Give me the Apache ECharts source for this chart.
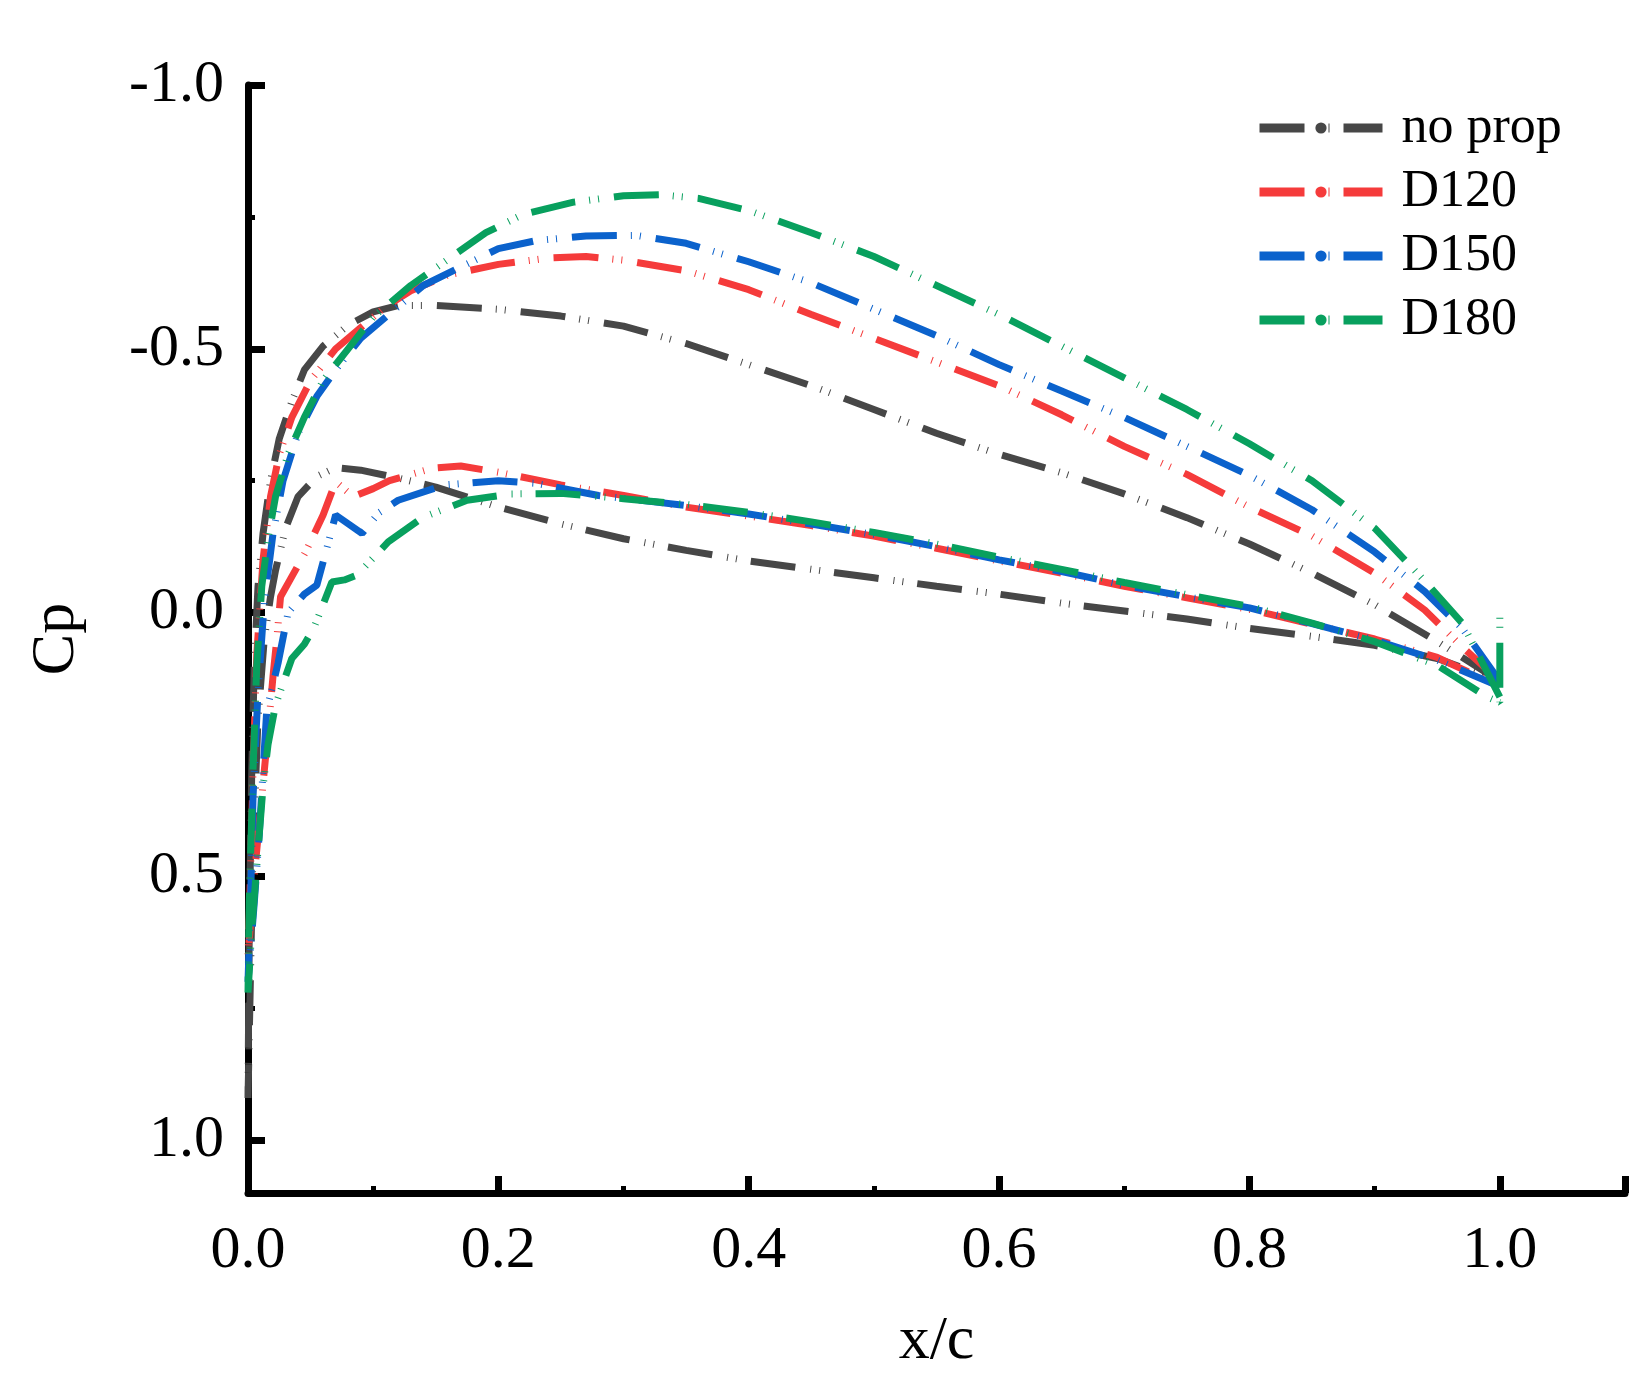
<!DOCTYPE html>
<html>
<head>
<meta charset="utf-8">
<script src="https://cdn.jsdelivr.net/npm/echarts@6/dist/echarts.min.js"></script>
<style>
  html, body { margin: 0; padding: 0; background: #fff; }
  #chart { width: 1647px; height: 1389px; }
</style>
</head>
<body>
<div id="chart"></div>
<script>
// pressure coefficient along the chord, upper branch from TE to LE, lower branch from LE back to TE
var seriesNames = ['no prop', 'D120', 'D150', 'D180'];
var seriesColors = ['#474747', '#f53b3b', '#0b62cc', '#08a05e'];

var noPropUpper = [[1.0,0.13],[0.95,0.055],[0.9,-0.015],[0.85,-0.075],[0.8,-0.13],[0.75,-0.18],[0.7,-0.225],[0.65,-0.265],[0.6,-0.3],[0.55,-0.34],[0.5,-0.385],[0.45,-0.43],[0.4,-0.47],[0.35,-0.51],[0.3,-0.543],[0.25,-0.562],[0.2,-0.575],[0.15,-0.582],[0.12,-0.582],[0.1,-0.57],[0.08,-0.545],[0.06,-0.505],[0.045,-0.46],[0.035,-0.4],[0.025,-0.33],[0.018,-0.25],[0.012,-0.15],[0.008,-0.05],[0.005,0.1],[0.003,0.3],[0.001,0.6],[0,0.92]];
var noPropLower = [[0.004,0.45],[0.008,0.2],[0.013,0.05],[0.018,-0.03],[0.022,-0.08],[0.03,-0.16],[0.04,-0.22],[0.055,-0.258],[0.07,-0.275],[0.09,-0.27],[0.12,-0.255],[0.15,-0.238],[0.2,-0.2],[0.25,-0.168],[0.3,-0.14],[0.35,-0.118],[0.4,-0.098],[0.45,-0.082],[0.5,-0.066],[0.55,-0.05],[0.6,-0.035],[0.65,-0.018],[0.7,-0.003],[0.75,0.012],[0.8,0.03],[0.85,0.045],[0.9,0.062],[0.95,0.087],[1.0,0.13]];

var d120Upper = [[1.0,0.13],[0.97,0.065],[0.94,-0.005],[0.9,-0.075],[0.85,-0.145],[0.8,-0.2],[0.75,-0.262],[0.7,-0.315],[0.65,-0.375],[0.6,-0.43],[0.55,-0.475],[0.5,-0.52],[0.45,-0.565],[0.4,-0.612],[0.35,-0.648],[0.3,-0.668],[0.27,-0.675],[0.24,-0.672],[0.2,-0.66],[0.16,-0.64],[0.13,-0.61],[0.11,-0.58],[0.09,-0.54],[0.07,-0.5],[0.05,-0.44],[0.035,-0.37],[0.025,-0.3],[0.018,-0.22],[0.012,-0.1],[0.007,0.08],[0.004,0.3],[0.002,0.5],[0,0.65]];
var d120Lower = [[0.005,0.5],[0.009,0.4],[0.013,0.3],[0.017,0.2],[0.02,0.12],[0.023,0.05],[0.026,-0.03],[0.046,-0.115],[0.06,-0.185],[0.07,-0.248],[0.084,-0.22],[0.1,-0.235],[0.113,-0.25],[0.148,-0.274],[0.17,-0.278],[0.2,-0.266],[0.25,-0.242],[0.3,-0.222],[0.35,-0.2],[0.4,-0.183],[0.45,-0.165],[0.5,-0.145],[0.55,-0.122],[0.6,-0.098],[0.65,-0.075],[0.7,-0.05],[0.75,-0.028],[0.8,-0.006],[0.85,0.022],[0.9,0.05],[0.95,0.085],[1.0,0.14]];

var d150Upper = [[1.0,0.13],[0.97,0.03],[0.94,-0.04],[0.9,-0.115],[0.85,-0.195],[0.8,-0.26],[0.75,-0.315],[0.7,-0.37],[0.65,-0.42],[0.6,-0.47],[0.55,-0.525],[0.5,-0.575],[0.45,-0.625],[0.4,-0.665],[0.35,-0.7],[0.31,-0.715],[0.27,-0.714],[0.23,-0.705],[0.2,-0.69],[0.17,-0.655],[0.14,-0.62],[0.11,-0.56],[0.09,-0.52],[0.07,-0.46],[0.055,-0.41],[0.04,-0.34],[0.028,-0.25],[0.02,-0.15],[0.013,-0.02],[0.008,0.15],[0.004,0.35],[0.002,0.55],[0,0.7]];
var d150Lower = [[0.005,0.55],[0.009,0.42],[0.012,0.3],[0.015,0.185],[0.024,0.096],[0.032,0.0],[0.045,-0.035],[0.055,-0.052],[0.065,-0.14],[0.07,-0.185],[0.091,-0.15],[0.105,-0.19],[0.12,-0.213],[0.157,-0.242],[0.2,-0.25],[0.23,-0.245],[0.28,-0.222],[0.35,-0.203],[0.4,-0.187],[0.45,-0.168],[0.5,-0.148],[0.55,-0.125],[0.6,-0.1],[0.65,-0.078],[0.7,-0.052],[0.75,-0.03],[0.8,-0.009],[0.85,0.021],[0.9,0.052],[0.95,0.09],[1.0,0.14]];

var d180Upper = [[1.0,0.16],[0.97,0.02],[0.94,-0.06],[0.9,-0.16],[0.85,-0.25],[0.8,-0.32],[0.75,-0.385],[0.7,-0.445],[0.65,-0.505],[0.6,-0.565],[0.55,-0.62],[0.5,-0.675],[0.45,-0.72],[0.4,-0.762],[0.36,-0.785],[0.33,-0.792],[0.3,-0.79],[0.26,-0.778],[0.22,-0.755],[0.19,-0.72],[0.16,-0.67],[0.13,-0.62],[0.1,-0.56],[0.08,-0.5],[0.06,-0.44],[0.045,-0.37],[0.032,-0.3],[0.022,-0.22],[0.016,-0.14],[0.011,-0.05],[0.007,0.1],[0.004,0.3],[0.001,0.55],[0,0.72]];
var d180Lower = [[0.003,0.6],[0.008,0.45],[0.012,0.33],[0.016,0.25],[0.022,0.175],[0.035,0.087],[0.045,0.06],[0.053,0.027],[0.067,-0.058],[0.077,-0.062],[0.087,-0.071],[0.112,-0.134],[0.14,-0.181],[0.175,-0.213],[0.21,-0.225],[0.25,-0.226],[0.3,-0.216],[0.35,-0.205],[0.4,-0.19],[0.45,-0.172],[0.5,-0.152],[0.55,-0.13],[0.6,-0.105],[0.65,-0.082],[0.7,-0.057],[0.75,-0.034],[0.8,-0.012],[0.85,0.02],[0.9,0.055],[0.95,0.1],[0.99,0.16],[1.0,0.17],[1.0,0.0]];

var seriesData = [
    noPropUpper.concat(noPropLower),
    d120Upper.concat(d120Lower),
    d150Upper.concat(d150Lower),
    d180Upper.concat(d180Lower)
];

var fontName = '"Liberation Serif", "Times New Roman", serif';

// dash - dot - dot, the dots kept very short like in the original
var dashDotDot = [45, 15, 1, 8, 1, 14];

var series = seriesNames.map(function (name, i) {
    return {
        name: name,
        type: 'line',
        data: seriesData[i],
        symbol: 'none',
        showSymbol: false,
        smooth: false,
        lineStyle: {
            color: seriesColors[i],
            width: 7,
            type: dashDotDot
        },
        itemStyle: { color: seriesColors[i] },
        z: 2 + i
    };
});

var axisCommon = {
    axisLine: { show: true, onZero: false, lineStyle: { color: '#000', width: 7 } },
    axisTick: { show: true, inside: true, length: 17, lineStyle: { color: '#000', width: 7 } },
    minorTick: { show: true, splitNumber: 2, length: 7, lineStyle: { color: '#000', width: 5 } },
    splitLine: { show: false },
    minorSplitLine: { show: false },
    axisLabel: {
        color: '#000',
        fontFamily: fontName,
        fontSize: 60,
        showMaxLabel: false,
        formatter: function (v) { return v.toFixed(1); }
    },
    nameLocation: 'middle',
    nameTextStyle: { color: '#000', fontFamily: fontName, fontSize: 62 }
};

var option = {
    animation: false,
    backgroundColor: '#fff',
    grid: { left: 248, right: 22, top: 85, bottom: 196, containLabel: false },
    legend: {
        orient: 'vertical',
        left: 1250,
        top: 97,
        itemWidth: 123,
        itemHeight: 14,
        itemGap: 12,
        data: seriesNames,
        lineStyle: { width: 9 },
        textStyle: { color: '#000', fontFamily: fontName, fontSize: 52, padding: [0, 0, 0, 14] }
    },
    xAxis: Object.assign({}, axisCommon, {
        type: 'value',
        min: 0,
        max: 1.1,
        interval: 0.2,
        name: 'x/c',
        nameGap: 118,
        axisLabel: Object.assign({}, axisCommon.axisLabel, { margin: 28 })
    }),
    yAxis: Object.assign({}, axisCommon, {
        type: 'value',
        inverse: true,
        min: -1.0,
        max: 1.1,
        interval: 0.5,
        name: 'Cp',
        nameGap: 160,
        axisLabel: Object.assign({}, axisCommon.axisLabel, { margin: 24 })
    }),
    series: series
};

var myChart = echarts.init(document.getElementById('chart'));
myChart.setOption(option);
</script>
</body>
</html>
